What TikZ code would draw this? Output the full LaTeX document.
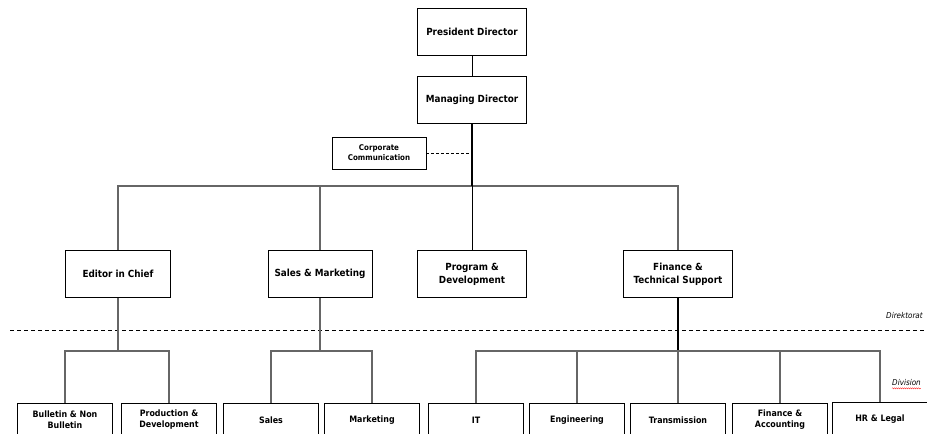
\documentclass[tikz,border=0pt]{standalone}
\usepackage{fontspec}
\setmainfont{DejaVu Sans Condensed}
\usetikzlibrary{positioning,decorations.pathmorphing}

\tikzset{
  box/.style={draw, line width=0.8pt, fill=white, minimum width=105, minimum height=47,
    align=center, font=\fontsize{9.8}{13}\selectfont\bfseries, inner sep=2pt},
  corp/.style={box, minimum width=94, minimum height=32, font=\fontsize{7.9}{10}\selectfont\bfseries},
  leaf/.style={box, minimum width=95, minimum height=34, font=\fontsize{8.8}{11}\selectfont\bfseries},
  link/.style={draw=black!60, line width=1.1pt},
  trunk/.style={draw=black, line width=1.6pt},
  tag/.style={font=\fontsize{8}{9}\selectfont\itshape, inner sep=0pt}
}

\begin{document}
\begin{tikzpicture}[x=1pt, y=-1pt]
\useasboundingbox (0,0) rectangle (927,434);
\clip (0,0) rectangle (927,434);

\node[box, minimum width=109] (pres) at (472,32) {President Director};
\node[box, minimum width=109] (md) at (472,100) {Managing Director};
\node[corp] (cc) at (379,153) {Corporate\\Communication};

\node[box] (ed) at (118,274) {Editor in Chief};
\node[box, minimum width=104] (sm) at (320,274) {Sales \& Marketing};
\node[box, minimum width=109] (pd) at (472,274) {Program \&\\Development};
\node[box, minimum width=109] (fin) at (678,274) {Finance \&\\Technical Support};

\coordinate (bus) at (472,186);
\coordinate (edbus) at (118,351);
\coordinate (smbus) at (320,351);
\coordinate (finbus) at (678,351);

\draw[line width=0.8pt] (pres) -- (md);
\draw[densely dashed, line width=0.8pt] (cc.east) -- (cc.east -| md);
\draw[link] (ed.north) |- (bus) -| (fin.north);
\draw[link] (sm.north) -- (sm.north |- bus);
\draw[line width=0.9pt] (bus) -- (pd.north);
\draw[trunk] (md.south) -- (bus);

\draw[dashed, line width=0.7pt, dash pattern=on 4pt off 3pt] (10,330) -- (927,330);
\node[tag, anchor=west] (dir) at (886,316) {Direktorat};
\node[tag, anchor=west] (div) at (892,383) {Division};
\draw[red!80, line width=0.4pt, decorate, decoration={snake, amplitude=0.6pt, segment length=2pt}]
  ([yshift=-2pt]div.south west) -- ([yshift=-2pt]div.south east);

\node[leaf] (bnb) at (65,420) {Bulletin \& Non\\Bulletin};
\node[leaf] (prod) at (169,420) {Production \&\\Development};
\node[leaf] (sales) at (271,420) {Sales};
\node[leaf] (mkt) at (372,420) {Marketing};
\node[leaf] (it) at (476,420) {IT};
\node[leaf] (eng) at (577,420) {Engineering};
\node[leaf] (trans) at (678,420) {Transmission};
\node[leaf] (fa) at (780,420) {Finance \&\\Accounting};
\node[leaf] (hr) at (880,419) {HR \& Legal};

\draw[link] (ed) -- (edbus);
\draw[link] (bnb.north) |- (edbus) -| (prod.north);
\draw[link] (sm) -- (smbus);
\draw[link] (sales.north) |- (smbus) -| (mkt.north);
\draw[trunk, line width=1.3pt] (fin) -- (finbus);
\draw[link] (it.north) |- (finbus) -| (hr.north);
\draw[link] (eng.north) -- (eng.north |- finbus);
\draw[link] (trans.north) -- (finbus);
\draw[link] (fa.north) -- (fa.north |- finbus);
\end{tikzpicture}
\end{document}
